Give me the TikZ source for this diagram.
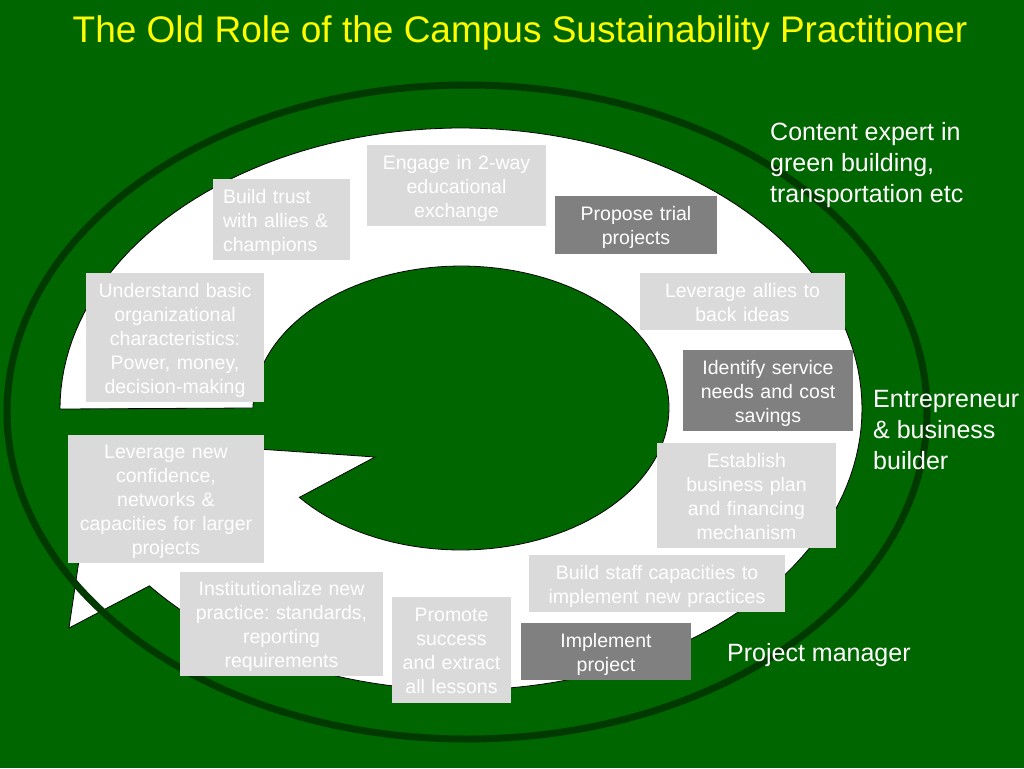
\documentclass[tikz,border=0pt]{standalone}
\usepackage{fontspec}
\setmainfont{Liberation Sans}
\frenchspacing
\definecolor{bg}{RGB}{0,102,0}
\definecolor{ringc}{RGB}{0,58,0}
\definecolor{lgray}{RGB}{218,218,218}
\definecolor{dgray}{RGB}{128,128,128}
\definecolor{ttl}{RGB}{255,255,0}
\begin{document}
\begin{tikzpicture}[x=1pt,y=-1pt,
  box/.style={inner sep=0pt, text=white, align=center, font=\fontsize{19.5}{24}\selectfont\frenchspacing,
    execute at begin node={\rule{0pt}{19.5pt}},
    execute at end node={\rule[-4.2pt]{0pt}{4.2pt}}},
  lbox/.style={box, fill=lgray},
  dbox/.style={box, fill=dgray},
  lbl/.style={text=white, align=left, inner sep=0pt, anchor=west, font=\fontsize{25}{31}\selectfont}]
\useasboundingbox (0,0) rectangle (1024,768);
\fill[bg] (0,0) rectangle (1024,768);
% title
\node[text=ttl, font=\fontsize{37}{44}\selectfont, inner sep=0pt] (title) at (520,32.5) {The Old Role of the Campus Sustainability Practitioner};
% circular arrow
\filldraw[fill=white, draw=black, line width=0.8pt]
  plot[domain=180:501, samples=160] ({461+401*cos(\x)},{409+281*sin(\x)})
  -- (69,628) -- (97,438) -- (375,457)
  -- plot[domain=501:180, samples=120] ({461+208*cos(\x)},{408+142*sin(\x)})
  -- cycle;
% dark ring
\draw[ringc, line width=7pt] (467,412) ellipse [x radius=460pt, y radius=327pt];
% boxes
\node[lbox, minimum width=179pt, text width=173pt, minimum height=81pt] (engage) at (456.5,185.5) {Engage in 2-way\\educational\\exchange};
\node[lbox, minimum width=137pt, minimum height=81pt, text width=117pt, align=left] (trust) at (281.5,219.5) {Build trust\\with allies \&\\champions};
\node[dbox, minimum width=162pt, text width=156pt, minimum height=58pt] (propose) at (636,225) {Propose trial\\projects};
\node[lbox, minimum width=205pt, text width=199pt, minimum height=57pt] (levallies) at (742.5,301.5) {Leverage allies to\\back ideas};
\node[dbox, minimum width=170pt, text width=164pt, minimum height=81pt] (identify) at (768,390.5) {Identify service\\needs and cost\\savings};
\node[lbox, minimum width=179pt, text width=173pt, minimum height=105pt] (establish) at (746.5,495.5) {Establish\\business plan\\and financing\\mechanism};
\node[lbox, minimum width=256pt, text width=250pt, minimum height=57pt] (staff) at (657,583.5) {Build staff capacities to\\implement new practices};
\node[dbox, minimum width=170pt, text width=164pt, minimum height=57pt] (implement) at (606,651.5) {Implement\\project};
\node[lbox, minimum width=119pt, text width=115pt, minimum height=106pt] (promote) at (451.5,650) {Promote\\success\\and extract\\all lessons};
\node[lbox, minimum width=203pt, text width=197pt, minimum height=104pt] (instit) at (281.5,624) {Institutionalize new\\practice: standards,\\reporting\\requirements};
\node[lbox, minimum width=196pt, text width=192pt, minimum height=128pt] (levnew) at (166,499) {Leverage new\\confidence,\\networks \&\\capacities for larger\\projects};
\node[lbox, minimum width=178pt, text width=174pt, minimum height=129pt] (understand) at (175,337.5) {Understand basic\\organizational\\characteristics:\\Power, money,\\decision-making};
% role labels
\node[lbl] (content) at (770,165.5) {Content expert in\\green building,\\transportation etc};
\node[lbl] (entre) at (873,430) {Entrepreneur\\\& business\\builder};
\node[lbl] (pm) at (727,655) {Project manager};
\end{tikzpicture}
\end{document}
